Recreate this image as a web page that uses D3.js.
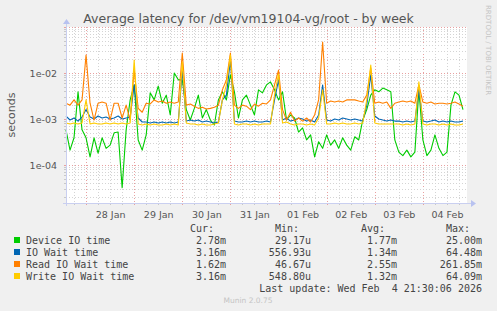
<!DOCTYPE html>
<html>
<head>
<meta charset="utf-8">
<script src="https://cdn.jsdelivr.net/npm/d3@7"></script>
<style>
  html, body { margin: 0; padding: 0; background: #f0f0f0; }
  svg { display: block; }
</style>
</head>
<body>
<div id="chart"></div>
<script>
// samples every 2 hours starting 27 Jan 14:00, values in milliseconds
const startTime = new Date(2026, 0, 27, 14, 0);
const endTime = new Date(2026, 1, 4, 21, 30);
const stepHours = 2;

const deviceIO = [
  0.58, 0.21, 0.39, 3.9, 0.58, 0.39, 0.15, 0.39, 0.18, 0.39,
  0.23, 0.27, 0.50, 0.52, 0.032, 0.58, 2.6, 5.5, 0.35, 0.21,
  0.45, 3.7, 2.6, 5.2, 2.2, 3.3, 1.22, 10, 7.1, 7.1,
  1.6, 0.95, 1.7, 3.3, 1.05, 1.6, 0.95, 0.74, 2.6, 3.9,
  2.6, 9.1, 3.9, 1.05, 2.6, 3.3, 2.0, 1.22, 4.3, 3.7,
  5.5, 6.4, 4.3, 2.6, 3.9, 0.95, 1.22, 1.05, 0.52, 0.64,
  0.35, 0.45, 0.15, 0.32, 0.23, 0.45, 0.27, 0.35, 0.23, 0.39,
  0.27, 0.21, 0.41, 0.35, 0.95, 1.6, 3.3, 4.3, 3.9, 4.7,
  4.3, 3.9, 0.35, 0.19, 0.16, 0.21, 0.15, 0.19, 4.3, 0.35,
  0.16, 0.21, 0.45, 0.23, 0.16, 0.19, 2.0, 3.9, 3.3, 1.6
];
const ioWait = [
  1.16, 0.95, 1.05, 0.9, 1.1, 1.6, 1.1, 1.0, 1.16, 1.05,
  1.1, 1.0, 1.05, 1.16, 1.0, 1.05, 1.1, 5.5, 1.05, 0.86,
  0.86, 0.82, 0.86, 0.82, 0.86, 0.82, 0.86, 0.82, 0.86, 11.6,
  0.9, 0.95, 0.9, 0.95, 0.86, 0.9, 0.86, 0.82, 0.86, 2.6,
  3.3, 19.2, 0.9, 0.86, 0.86, 0.9, 0.86, 0.9, 0.86, 0.86,
  0.9, 0.86, 2.6, 7.1, 0.95, 1.05, 0.9, 0.95, 1.05, 1.0,
  0.9, 0.95, 0.86, 1.22, 5.5, 0.95, 0.9, 1.0, 0.95, 1.05,
  1.0, 0.95, 1.0, 0.95, 0.9, 2.0, 9.1, 1.16, 1.0, 0.95,
  0.9, 0.95, 0.9, 0.9, 0.86, 0.9, 0.86, 0.9, 4.3, 0.9,
  0.86, 0.9, 0.95, 0.86, 0.9, 0.86, 0.9, 0.86, 0.86, 0.9
];
const readWait = [
  2.2, 2.0, 2.6, 2.0, 2.6, 24.5, 2.2, 0.95, 2.2, 2.34,
  2.2, 0.95, 2.2, 2.2, 1.05, 2.0, 0.95, 11.6, 1.7, 1.4,
  2.2, 2.12, 2.6, 2.34, 2.46, 2.2, 2.34, 2.2, 2.34, 27.2,
  2.0, 2.12, 1.9, 1.7, 1.8, 1.65, 1.7, 1.8, 2.0, 4.3,
  7.1, 27.2, 2.0, 1.7, 2.0, 1.9, 1.6, 2.12, 1.9, 2.2,
  2.12, 2.6, 5.5, 11.6, 1.6, 0.95, 1.4, 0.9, 1.05, 0.9,
  1.05, 0.86, 1.22, 2.6, 47.2, 2.2, 2.46, 2.34, 2.46, 2.34,
  2.6, 2.6, 2.6, 2.46, 2.34, 3.3, 12.9, 2.2, 2.34, 2.2,
  2.34, 1.7, 2.2, 2.34, 2.46, 2.34, 2.46, 2.2, 5.5, 2.34,
  2.2, 2.34, 2.12, 2.2, 2.2, 2.12, 2.2, 2.34, 2.12, 1.9
];
const writeWait = [
  0.82, 0.78, 0.82, 0.78, 0.82, 2.6, 0.78, 0.82, 0.78, 0.78,
  0.82, 0.78, 0.82, 0.78, 0.82, 0.78, 0.82, 19.2, 0.78, 0.74,
  0.78, 0.74, 0.78, 0.74, 0.74, 0.78, 0.74, 0.78, 0.74, 17.3,
  0.82, 0.78, 0.78, 0.74, 0.78, 0.74, 0.74, 0.78, 0.82, 2.6,
  5.5, 24.5, 0.78, 0.74, 0.78, 0.78, 0.74, 0.78, 0.74, 0.78,
  0.78, 0.78, 3.3, 9.5, 0.82, 0.86, 0.78, 0.74, 0.78, 0.78,
  0.74, 0.78, 0.74, 1.05, 4.3, 0.78, 0.78, 0.82, 0.78, 0.82,
  0.78, 0.78, 0.82, 0.78, 0.82, 2.6, 14.9, 0.82, 0.78, 0.78,
  0.78, 0.78, 0.78, 0.78, 0.74, 0.78, 0.74, 0.78, 6.4, 0.78,
  0.74, 0.78, 0.78, 0.74, 0.78, 0.74, 0.78, 0.74, 0.74, 0.78
];

const seriesNames = ['Device IO time', 'IO Wait time', 'Read IO Wait time', 'Write IO Wait time'];
const seriesColors = ['#00cc00', '#0066b3', '#ff8000', '#ffcc00'];
const seriesValues = [deviceIO, ioWait, readWait, writeWait];
const curVals = ['2.78m', '3.16m', '1.62m', '3.16m'];
const minVals = ['29.17u', '556.93u', '46.67u', '548.80u'];
const avgVals = ['1.77m', '1.34m', '2.55m', '1.32m'];
const maxVals = ['25.00m', '64.48m', '261.85m', '64.09m'];

const yTicks = [1e-4, 1e-3, 1e-2];
const dayLabels = ['28 Jan', '29 Jan', '30 Jan', '31 Jan', '01 Feb', '02 Feb', '03 Feb', '04 Feb'];

const W = 497, H = 311;
const plot = { left: 66, right: 466, top: 27, bottom: 203 };

const svg = d3.select('#chart').append('svg')
  .attr('width', W).attr('height', H)
  .style('font-family', '"DejaVu Sans", sans-serif');

svg.append('rect').attr('width', W).attr('height', H).attr('fill', '#f0f0f0');
svg.append('rect')
  .attr('x', plot.left).attr('y', plot.top)
  .attr('width', plot.right - plot.left + 1).attr('height', plot.bottom - plot.top)
  .attr('fill', '#fff');

const x = d3.scaleTime().domain([startTime, endTime]).range([plot.left, plot.right]);
const y = d3.scaleLog().domain([1.49e-5, 0.1]).range([plot.bottom, plot.top]);

// grid: minor every 6 hours, major at midnight
const g = svg.append('g');
const hours = d3.timeHour.every(6).range(startTime, endTime);
hours.forEach(t => {
  const major = t.getHours() === 0;
  g.append('line')
    .attr('x1', Math.round(x(t)) + 0.5).attr('x2', Math.round(x(t)) + 0.5)
    .attr('y1', plot.top).attr('y2', plot.bottom)
    .attr('stroke', major ? '#e8a0a0' : '#d4d4d4')
    .attr('stroke-dasharray', '1,2');
  g.append('line')
    .attr('x1', Math.round(x(t)) + 0.5).attr('x2', Math.round(x(t)) + 0.5)
    .attr('y1', plot.bottom).attr('y2', plot.bottom + 2)
    .attr('stroke', major ? '#e8a0a0' : '#c8c8c8');
});
for (let e = -5; e <= -1; e++) {
  for (let m = 1; m <= 9; m++) {
    const v = m * Math.pow(10, e);
    if (v < y.domain()[0] || v > y.domain()[1]) continue;
    const yy = Math.round(y(v)) + 0.5;
    g.append('line')
      .attr('x1', plot.left).attr('x2', plot.right + 1)
      .attr('y1', yy).attr('y2', yy)
      .attr('stroke', m === 1 ? '#e8a0a0' : '#d4d4d4')
      .attr('stroke-dasharray', '1,2');
    g.append('line')
      .attr('x1', plot.left - 2).attr('x2', plot.left)
      .attr('y1', yy).attr('y2', yy)
      .attr('stroke', m === 1 ? '#e8a0a0' : '#c8c8c8');
  }
}

// series
const line = d3.line()
  .x((d, i) => x(d3.timeHour.offset(startTime, i * stepHours)))
  .y(d => y(d / 1000));
seriesValues.forEach((vals, k) => {
  svg.append('path')
    .datum(vals)
    .attr('d', line)
    .attr('fill', 'none')
    .attr('stroke', seriesColors[k])
    .attr('stroke-width', 1.1)
    .attr('stroke-linejoin', 'round');
});

// axes
const axisColor = '#c9cff0';
svg.append('line')
  .attr('x1', plot.left + 0.5).attr('x2', plot.left + 0.5)
  .attr('y1', plot.bottom + 3).attr('y2', plot.top - 4)
  .attr('stroke', axisColor);
svg.append('line')
  .attr('x1', plot.left - 3).attr('x2', plot.right + 5)
  .attr('y1', plot.bottom + 0.5).attr('y2', plot.bottom + 0.5)
  .attr('stroke', axisColor);
svg.append('path')
  .attr('d', `M${plot.left - 3},${plot.top - 3} L${plot.left + 4},${plot.top - 3} L${plot.left + 0.5},${plot.top - 8} Z`)
  .attr('fill', '#b8c2f0');
svg.append('path')
  .attr('d', `M${plot.right + 5},${plot.bottom - 3} L${plot.right + 5},${plot.bottom + 4} L${plot.right + 10},${plot.bottom + 0.5} Z`)
  .attr('fill', '#b8c2f0');

const yAxis = svg.append('g')
  .attr('transform', `translate(${plot.left - 6},0)`)
  .call(d3.axisLeft(y).tickValues(yTicks).tickSize(0)
    .tickFormat(v => '1e-0' + Math.round(-Math.log10(v))));
yAxis.select('.domain').remove();
yAxis.selectAll('text')
  .attr('fill', '#555').style('font-size', '9.5px')
  .style('font-family', '"DejaVu Sans", sans-serif');

const noons = dayLabels.map((d, i) => d3.timeHour.offset(new Date(2026, 0, 28, 12), i * 24));
const xAxis = svg.append('g')
  .attr('transform', `translate(0,${plot.bottom + 5})`)
  .call(d3.axisBottom(x).tickValues(noons).tickSize(0)
    .tickFormat((d, i) => dayLabels[i]));
xAxis.select('.domain').remove();
xAxis.selectAll('text')
  .attr('fill', '#555').style('font-size', '9.5px')
  .style('font-family', '"DejaVu Sans", sans-serif');

// title and side texts
svg.append('text')
  .attr('x', W / 2).attr('y', 23)
  .attr('text-anchor', 'middle')
  .attr('fill', '#555').style('font-size', '12.5px')
  .text('Average latency for /dev/vm19104-vg/root - by week');

svg.append('text')
  .attr('transform', 'translate(15,115) rotate(-90)')
  .attr('text-anchor', 'middle')
  .attr('fill', '#555').style('font-size', '11px')
  .text('seconds');

svg.append('text')
  .attr('transform', 'translate(486,5) rotate(90)')
  .attr('fill', '#c4c4c4').style('font-size', '7px')
  .text('RRDTOOL / TOBI OETIKER');

// legend
const mono = '"DejaVu Sans Mono", monospace';
const legend = svg.append('g').style('font-family', mono).style('font-size', '10px').attr('fill', '#444');
const colEnds = [226, 311, 397, 482];
['Cur:', 'Min:', 'Avg:', 'Max:'].forEach((h, i) => {
  legend.append('text').attr('x', colEnds[i] - 12).attr('y', 231.5)
    .attr('text-anchor', 'end').text(h);
});
seriesNames.forEach((name, k) => {
  const yc = 240 + k * 12;
  legend.append('rect').attr('x', 14).attr('y', yc - 3).attr('width', 6).attr('height', 6)
    .attr('fill', seriesColors[k]);
  legend.append('text').attr('x', 26).attr('y', yc + 3.5).text(name);
  [curVals, minVals, avgVals, maxVals].forEach((col, i) => {
    legend.append('text').attr('x', colEnds[i]).attr('y', yc + 3.5)
      .attr('text-anchor', 'end').text(col[k]);
  });
});
legend.append('text').attr('x', 482).attr('y', 291.5).attr('text-anchor', 'end')
  .style('white-space', 'pre').attr('xml:space', 'preserve')
  .text('Last update: Wed Feb  4 21:30:06 2026');

svg.append('text')
  .attr('x', 248).attr('y', 303)
  .attr('text-anchor', 'middle')
  .attr('fill', '#c4c4c4').style('font-size', '7.5px')
  .text('Munin 2.0.75');
</script>
</body>
</html>
